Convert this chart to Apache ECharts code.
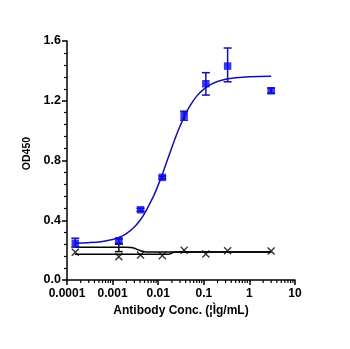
<!DOCTYPE html>
<html><head><meta charset="utf-8">
<script src="https://cdn.jsdelivr.net/npm/echarts@6/dist/echarts.min.js"></script>
<style>html,body{margin:0;padding:0;background:#fff}#c{width:350px;height:349px}</style>
</head><body><div id="c"></div>
<script>
const xTickValues = [0.0001, 0.001, 0.01, 0.1, 1, 10];
const xTickLabels = ['0.0001', '0.001', '0.01', '0.1', '1', '10'];
const yTickLabels = ['0.0', '0.4', '0.8', '1.2', '1.6'];
const concentrations = [0.000152, 0.00137, 0.0041, 0.0123, 0.037, 0.111, 0.333, 3];
const blueMean = [0.246, 0.263, 0.470, 0.687, 1.100, 1.314, 1.432, 1.267];
const blueLow  = [0.220, 0.245, 0.460, 0.678, 1.070, 1.238, 1.327, 1.250];
const blueHigh = [0.280, 0.275, 0.480, 0.696, 1.130, 1.388, 1.553, 1.285];
const ctrlMean = [0.186, 0.156, 0.167, 0.163, 0.200, 0.174, 0.196, 0.194];
const ctrlErrX = [0.00137];
const ctrlErrLow = [0.190];
const ctrlErrHigh = [0.240];
const blueCurveX = [0.00015,0.0003,0.0006,0.001,0.0015,0.002,0.003,0.004,0.005,0.0065,0.008,0.01,0.0125,0.015,0.02,0.025,0.03,0.04,0.05,0.07,0.1,0.15,0.2,0.3,0.5,1,3];
const blueCurveY = [0.247,0.250,0.258,0.271,0.290,0.310,0.355,0.400,0.445,0.510,0.565,0.635,0.713,0.781,0.889,0.969,1.029,1.113,1.167,1.231,1.278,1.313,1.329,1.344,1.354,1.361,1.364];
const ctrlCurve1X = [0.00015,0.002,0.0025,0.003,0.0035,0.004,0.0045,0.005,0.006,3];
const ctrlCurve1Y = [0.219,0.219,0.217,0.212,0.204,0.197,0.192,0.189,0.187,0.187];
const ctrlCurve2X = [0.00015,0.016,0.018,0.02,0.022,0.025,3];
const ctrlCurve2Y = [0.172,0.172,0.174,0.180,0.185,0.187,0.187];
const minorMultipliers = [2,3,4,5,6,7,8,9];

const zip = (a, b) => a.map((v, i) => [v, b[i]]);
const minorTicks = [];
for (let d = 0; d < xTickValues.length - 1; d++) {
  minorMultipliers.forEach(m => minorTicks.push([xTickValues[d] * m]));
}
const FONT = 'Liberation Sans';
const BLUE = '#0505ee';
const NAVY = '#1212a8';
const XSYM = 'path://M0,1.2L1.2,0L5,3.8L8.8,0L10,1.2L6.2,5L10,8.8L8.8,10L5,6.2L1.2,10L0,8.8L3.8,5Z';

function errRender(color) {
  return function (params, api) {
    const x = api.value(0), lo = api.value(1), hi = api.value(2);
    const p1 = api.coord([x, lo]), p2 = api.coord([x, hi]);
    const w = 4;
    const st = { stroke: color, lineWidth: 1.5 };
    return { type: 'group', children: [
      { type: 'line', shape: { x1: p1[0], y1: p1[1], x2: p2[0], y2: p2[1] }, style: st },
      { type: 'line', shape: { x1: p1[0]-w, y1: p1[1], x2: p1[0]+w, y2: p1[1] }, style: st },
      { type: 'line', shape: { x1: p2[0]-w, y1: p2[1], x2: p2[0]+w, y2: p2[1] }, style: st }
    ]};
  };
}

const chart = echarts.init(document.getElementById('c'), null, { renderer: 'canvas' });
chart.setOption({
  animation: false,
  grid: { left: 67, right: 55, top: 41, bottom: 69, containLabel: false },
  xAxis: {
    type: 'log', logBase: 10, min: 0.0001, max: 10,
    name: 'Antibody Conc. (¦Ìg/mL)', nameLocation: 'middle', nameGap: 25,
    nameTextStyle: { fontFamily: FONT, fontWeight: 'bold', fontSize: 12, color: '#000' },
    axisLine: { lineStyle: { color: '#000', width: 1.5 } },
    axisTick: { length: 5, lineStyle: { color: '#000', width: 1.5 } },
    axisLabel: { margin: 8, fontFamily: FONT, fontWeight: 'bold', fontSize: 12, color: '#000',
      formatter: v => { const i = xTickValues.findIndex(t => Math.abs(Math.log10(t) - Math.log10(v)) < 1e-6); return i >= 0 ? xTickLabels[i] : ''; } },
    splitLine: { show: false }, minorTick: { show: false }
  },
  yAxis: {
    type: 'value', min: 0, max: 1.6, interval: 0.4,
    name: 'OD450', nameLocation: 'middle', nameGap: 30,
    nameTextStyle: { fontFamily: FONT, fontWeight: 'bold', fontSize: 10.5, color: '#000', padding: [0, 0, 0, 14] },
    axisLine: { show: true, lineStyle: { color: '#000', width: 1.5 } },
    axisTick: { show: true, length: 5, lineStyle: { color: '#000', width: 1.5 } },
    minorTick: { show: true, splitNumber: 5, length: 3, lineStyle: { color: '#000', width: 1.2 } },
    axisLabel: { margin: 6, fontFamily: FONT, fontWeight: 'bold', fontSize: 12.5, color: '#000',
      formatter: v => yTickLabels[Math.round(v / 0.4)] },
    splitLine: { show: false }
  },
  series: [
    { type: 'custom', silent: true, clip: false, data: minorTicks,
      renderItem: (params, api) => {
        const p = api.coord([api.value(0), 0]);
        return { type: 'line', shape: { x1: p[0], y1: p[1], x2: p[0], y2: p[1] + 3 }, style: { stroke: '#000', lineWidth: 1.2 } };
      } },
    { type: 'line', data: zip(ctrlCurve1X, ctrlCurve1Y), showSymbol: false, symbol: 'none', smooth: 0.3,
      lineStyle: { color: '#000', width: 1.5 }, z: 3 },
    { type: 'line', data: zip(ctrlCurve2X, ctrlCurve2Y), showSymbol: false, symbol: 'none', smooth: 0.3,
      lineStyle: { color: '#000', width: 1.5 }, z: 3 },
    { type: 'custom', data: ctrlErrX.map((x, i) => [x, ctrlErrLow[i], ctrlErrHigh[i]]),
      renderItem: errRender('#111'), z: 4 },
    { type: 'scatter', data: zip(concentrations, ctrlMean), symbol: XSYM, symbolSize: 8,
      itemStyle: { color: '#000' }, z: 5 },
    { type: 'line', data: zip(blueCurveX, blueCurveY), showSymbol: false, symbol: 'none', smooth: 0.4,
      lineStyle: { color: NAVY, width: 1.5 }, z: 6 },
    { type: 'custom', data: concentrations.map((x, i) => [x, blueLow[i], blueHigh[i]]),
      renderItem: errRender(NAVY), z: 7 },
    { type: 'scatter', data: zip(concentrations, blueMean), symbol: 'rect', symbolSize: 7.5,
      itemStyle: { color: BLUE }, z: 8 }
  ]
});
</script></body></html>
